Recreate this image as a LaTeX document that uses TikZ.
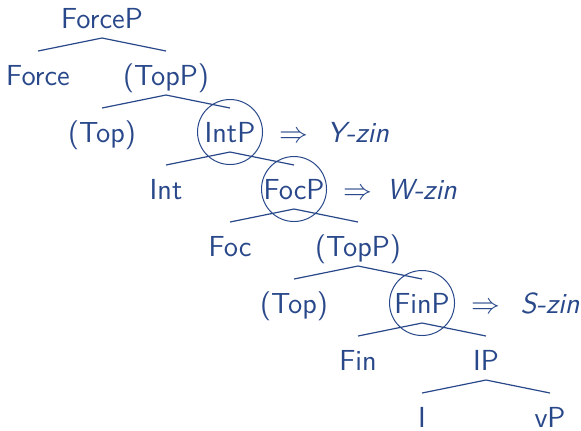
\documentclass[tikz,border=0pt]{standalone}
\usepackage{fontspec}
\usepackage{xcolor}
\definecolor{treeblue}{RGB}{41,72,138}

\tikzset{
  cat/.style={inner sep=0pt, text height=10pt, text depth=0pt, font=\fontsize{14.5}{17}\sffamily},
  phase/.style={cat, draw, circle, minimum size=32.5pt, line width=0.5pt},
  branch/.style={line width=0.6pt}
}

\begin{document}
\begin{tikzpicture}[x=32pt, y=28.5pt, color=treeblue]
\useasboundingbox (-0.594,0.316) rectangle (8.484,-7.228);

\node[cat] (forcep) at (1,0) {ForceP};
\node[cat] (force) at (0,-1) {Force};
\node[cat] (topp1) at (2,-1) {(TopP)};
\node[cat] (top1) at (1,-2) {(Top)};
\node[phase] (intp) at (3,-2) {IntP};
\node[cat] (int) at (2,-3) {Int};
\node[phase] (focp) at (4,-3) {FocP};
\node[cat] (foc) at (3,-4) {Foc};
\node[cat] (topp2) at (5,-4) {(TopP)};
\node[cat] (top2) at (4,-5) {(Top)};
\node[phase] (finp) at (6,-5) {FinP};
\node[cat] (fin) at (5,-6) {Fin};
\node[cat] (ip) at (7,-6) {IP};
\node[cat] (i) at (6,-7) {I};
\node[cat] (vp) at (8,-7) {vP};

% clause types
\node[cat] (yarrow) at (4,-2) {$\Rightarrow$};
\node[cat] (yzin) at (5,-2) {\textit{Y-zin}};
\node[cat] (warrow) at (5,-3) {$\Rightarrow$};
\node[cat] (wzin) at (6,-3) {\textit{W-zin}};
\node[cat] (sarrow) at (7,-5) {$\Rightarrow$};
\node[cat] (szin) at (8,-5) {\textit{S-zin}};

\draw[branch] ([yshift=12pt]force.center) -- ([yshift=-10pt]forcep.center) -- ([yshift=12pt]topp1.center);
\draw[branch] ([yshift=12pt]top1.center) -- ([yshift=-10pt]topp1.center) -- ([yshift=12pt]intp.center);
\draw[branch] ([yshift=12pt]int.center) -- ([yshift=-10pt]intp.center) -- ([yshift=12pt]focp.center);
\draw[branch] ([yshift=12pt]foc.center) -- ([yshift=-10pt]focp.center) -- ([yshift=12pt]topp2.center);
\draw[branch] ([yshift=12pt]top2.center) -- ([yshift=-10pt]topp2.center) -- ([yshift=12pt]finp.center);
\draw[branch] ([yshift=12pt]fin.center) -- ([yshift=-10pt]finp.center) -- ([yshift=12pt]ip.center);
\draw[branch] ([yshift=12pt]i.center) -- ([yshift=-10pt]ip.center) -- ([yshift=12pt]vp.center);
\end{tikzpicture}
\end{document}
